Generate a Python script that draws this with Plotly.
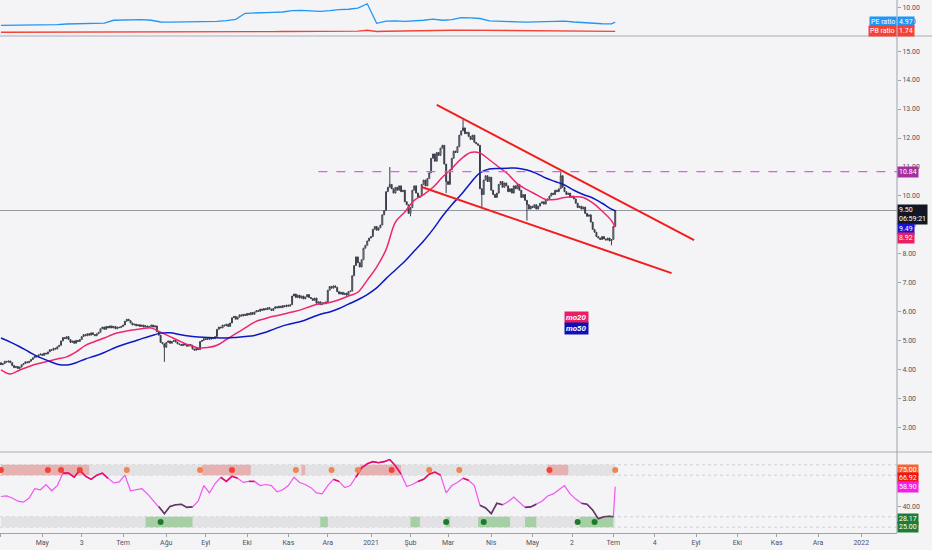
import pandas as pd
import plotly.graph_objects as go

# daily bars (weekdays) shown on the chart
days = pd.bdate_range('2020-04-01', '2021-07-02')

# closing prices, month by month
c_apr20 = [4.18, 4.22, 4.30, 4.27, 4.31, 4.25, 4.15, 4.08, 4.12, 4.05, 4.10, 4.18, 4.22, 4.28, 4.25, 4.30, 4.36, 4.42, 4.48, 4.45, 4.52, 4.55]
c_may20 = [4.50, 4.58, 4.55, 4.62, 4.70, 4.68, 4.75, 4.72, 4.80, 4.85, 5.00, 5.12, 5.08, 5.15, 5.05, 4.95, 5.00, 4.92, 5.02, 4.98, 5.05]
c_jun20 = [5.15, 5.22, 5.18, 5.25, 5.20, 5.28, 5.22, 5.18, 5.25, 5.30, 5.42, 5.48, 5.40, 5.50, 5.45, 5.52, 5.45, 5.50, 5.42, 5.48, 5.46, 5.50]
c_jul20 = [5.55, 5.68, 5.75, 5.70, 5.62, 5.55, 5.58, 5.52, 5.56, 5.50, 5.55, 5.48, 5.52, 5.46, 5.50, 5.55, 5.48, 5.52, 5.32, 5.20, 4.95, 4.90, 4.78]
c_aug20 = [4.95, 5.00, 4.92, 4.98, 5.02, 4.96, 4.90, 4.88, 4.84, 4.90, 4.86, 4.82, 4.88, 4.85, 4.72, 4.68, 4.75, 4.70, 4.98, 5.02, 5.08]
c_sep20 = [5.05, 5.10, 5.06, 5.12, 5.08, 5.15, 5.40, 5.48, 5.45, 5.55, 5.52, 5.58, 5.50, 5.62, 5.80, 5.85, 5.75, 5.82, 5.90, 5.86, 5.92, 5.88]
c_oct20 = [5.95, 5.90, 5.98, 5.92, 6.00, 6.05, 6.02, 6.10, 6.06, 6.12, 6.08, 6.15, 6.10, 6.05, 6.12, 6.18, 6.14, 6.20, 6.15, 6.22, 6.18, 6.24]
c_nov20 = [6.20, 6.25, 6.55, 6.62, 6.50, 6.58, 6.48, 6.55, 6.45, 6.52, 6.60, 6.50, 6.46, 6.40, 6.48, 6.30, 6.35, 6.25, 6.32, 6.28, 6.35]
c_dec20 = [6.75, 6.88, 6.82, 6.90, 6.85, 6.70, 6.62, 6.68, 6.60, 6.65, 6.58, 6.70, 6.72, 7.25, 7.60, 7.90, 7.70, 7.55, 7.80, 8.20, 8.30, 8.45, 8.55]
c_jan21 = [8.60, 8.85, 8.95, 8.82, 8.90, 9.00, 9.35, 9.50, 10.15, 10.30, 10.40, 10.25, 10.10, 10.30, 10.20, 10.35, 10.15, 10.20, 9.80, 9.70, 9.40]
c_feb21 = [9.60, 10.20, 10.35, 10.10, 9.95, 10.00, 10.40, 10.55, 10.35, 10.60, 10.80, 11.30, 11.45, 11.20, 11.50, 11.40, 11.65, 11.75, 11.10, 10.50]
c_mar21 = [10.40, 10.90, 11.30, 11.55, 11.50, 11.70, 12.10, 12.25, 12.35, 12.15, 12.20, 12.05, 11.95, 12.10, 11.85, 11.80, 11.75, 10.25, 10.05, 10.55, 10.70, 10.50, 10.65]
c_apr21 = [10.20, 10.05, 9.95, 10.10, 10.40, 10.50, 10.30, 10.45, 10.35, 10.15, 10.25, 10.10, 10.35, 10.25, 10.40, 10.20, 9.95, 10.05, 9.85, 9.70, 9.55, 9.65]
c_may21 = [9.60, 9.70, 9.55, 9.65, 9.75, 9.80, 9.72, 9.85, 9.90, 10.00, 10.10, 10.05, 10.20, 10.15, 10.25, 10.70, 10.30, 10.15, 10.05, 10.10, 9.95]
c_jun21 = [10.00, 9.90, 9.75, 9.60, 9.65, 9.55, 9.62, 9.40, 9.30, 9.35, 9.10, 8.85, 8.75, 8.60, 8.55, 8.50, 8.60, 8.52, 8.48, 8.55, 8.45, 8.50]
c_jul21 = [8.95, 9.50]
first_open = 4.25

# long wicks visible on the chart
wick_high = {'2021-01-15': 11.00, '2021-03-11': 12.65, '2021-05-24': 10.84}
wick_low = {'2020-07-31': 4.28, '2021-02-01': 9.30, '2021-02-26': 10.10,
            '2021-03-25': 9.60, '2021-04-28': 9.15, '2021-06-30': 8.30}

# moving averages, PE and PB ratios: one reading every 5th bar (+ last bar)
ma_idx = list(range(0, 326, 5)) + [327]
ma20 = [4.00, 3.86, 4.00, 4.12, 4.22, 4.30, 4.38, 4.45, 4.62, 4.85,
        4.98, 5.10, 5.24, 5.32, 5.38, 5.42, 5.45, 5.30, 5.15, 5.00,
        4.86, 4.76, 4.77, 4.85, 5.05, 5.25, 5.45, 5.65, 5.76, 5.85,
        5.92, 6.00, 6.08, 6.20, 6.28, 6.33, 6.42, 6.55, 6.68, 7.10,
        7.55, 8.15, 9.10, 9.45, 9.85, 10.05, 10.30, 10.65, 10.95, 11.28,
        11.50, 11.48, 11.25, 11.00, 10.75, 10.42, 10.22, 10.05, 9.88, 9.88,
        9.95, 9.97, 9.95, 9.76, 9.48, 9.15, 8.92]
ma50 = [5.10, 4.96, 4.80, 4.62, 4.45, 4.32, 4.20, 4.17, 4.25, 4.38,
        4.48, 4.60, 4.75, 4.87, 4.97, 5.08, 5.18, 5.27, 5.28, 5.22,
        5.17, 5.14, 5.12, 5.11, 5.10, 5.12, 5.15, 5.19, 5.28, 5.40,
        5.52, 5.60, 5.68, 5.80, 5.92, 6.00, 6.12, 6.27, 6.42, 6.60,
        6.83, 7.15, 7.45, 7.75, 8.10, 8.45, 8.85, 9.30, 9.70, 10.05,
        10.45, 10.80, 10.93, 10.95, 10.96, 10.96, 10.90, 10.78, 10.62, 10.50,
        10.38, 10.20, 10.05, 9.93, 9.75, 9.55, 9.49]
pe_ratio = [3.85, 3.85, 3.86, 3.86, 3.88, 3.90, 4.10, 4.30, 4.35, 4.45,
            4.55, 4.60, 5.60, 5.75, 5.90, 5.80, 5.60, 5.00, 4.95, 5.00,
            5.05, 5.10, 5.10, 5.20, 5.50, 5.90, 8.00, 8.20, 8.30, 8.35,
            8.45, 8.90, 9.00, 8.80, 8.70, 8.90, 9.30, 9.40, 9.80, 11.30,
            4.55, 5.30, 5.40, 5.20, 5.30, 5.60, 6.00, 5.60, 5.80, 6.50,
            6.40, 6.20, 5.40, 5.20, 5.10, 5.05, 4.95, 5.00, 5.10, 5.20,
            5.30, 5.00, 4.75, 4.55, 4.40, 4.35, 4.97]
pb_ratio = [1.45, 1.45, 1.46, 1.46, 1.47, 1.47, 1.50, 1.55, 1.55, 1.58, 1.60,
            1.62, 1.68, 1.70, 1.70, 1.68, 1.65,
            1.50, 1.50, 1.52, 1.55, 1.55,
            1.58, 1.60, 1.62, 1.65,
            1.68, 1.68, 1.70, 1.70, 1.72, 1.72, 1.74, 1.72, 1.70, 1.72, 1.74, 1.78, 1.85,
            2.15,
            1.72, 1.80, 1.82, 1.80, 1.85, 1.95,
            1.95, 2.05, 2.15, 2.20, 2.18, 2.10,
            1.95, 1.92, 1.90, 1.92, 1.95, 1.92, 1.88, 1.85, 1.82, 1.80, 1.78, 1.76, 1.74, 1.72,
            1.74]

# RSI-style oscillator, every 3rd bar (+ last two bars)
rsi_idx = list(range(0, 325, 3)) + [326, 327]
rsi = [49.5, 50, 48, 45, 44, 48, 57, 56, 61, 55,
       60, 72, 72, 68, 75, 69, 66, 70, 72, 67,
       62.5, 63.5, 70, 55, 56, 57, 52, 46, 40, 33,
       40, 41.5, 42, 39, 39.5, 45, 60, 53, 62, 68,
       64, 69, 67, 63, 64, 64, 60, 61, 60, 54,
       56, 60, 68, 63, 61, 58, 53, 52, 60, 66,
       64, 58, 60, 68, 77, 81, 83, 82, 83, 85,
       79, 71, 59, 61, 64, 66, 71, 73, 70, 53,
       60, 63, 67, 65, 60, 41, 38.5, 33, 43, 41.5,
       44.5, 49, 44, 39, 39.5, 42, 45, 50, 52, 56,
       60, 52, 47, 43, 42, 36.5, 28, 30, 30.5,
       30.0, 58.9]

# overbought / oversold highlight zones and signal dots
ob_zones = [('2020-04-01', '2020-06-05'), ('2020-08-28', '2020-10-05'), ('2020-11-11', '2020-11-13'),
            ('2020-12-24', '2021-01-25'), ('2021-05-13', '2021-05-28')]
os_zones = [('2020-07-17', '2020-08-21'), ('2020-11-25', '2020-12-01'), ('2021-02-01', '2021-02-08'),
            ('2021-02-26', '2021-03-02'), ('2021-03-23', '2021-04-15'), ('2021-04-27', '2021-05-05'),
            ('2021-06-07', '2021-07-01')]
ob_dots_red = ['2020-04-01', '2020-05-06', '2020-05-15', '2020-05-29', '2020-09-21', '2021-01-18', '2021-05-14']
ob_dots_orange = ['2020-07-03', '2020-08-27', '2020-11-06', '2020-12-03', '2020-12-23', '2021-02-15', '2021-03-09', '2021-07-02']
os_dots = ['2020-07-29', '2021-02-26', '2021-03-26', '2021-06-04', '2021-06-17']

# drawings: falling wedge and resistance level
upper_line = [('2021-02-19', 13.14), ('2021-08-31', 8.48)]
lower_line = [('2021-02-09', 10.31), ('2021-08-13', 7.34)]
resistance = 10.84
resistance_from = '2020-11-24'
last_price = 9.50

month_ticks = ['2020-04-01', '2020-05-01', '2020-06-01', '2020-07-01', '2020-08-03', '2020-09-01',
               '2020-10-01', '2020-11-02', '2020-12-01', '2021-01-01', '2021-02-01', '2021-03-01',
               '2021-04-01', '2021-05-03', '2021-06-01', '2021-07-01', '2021-08-02', '2021-09-01',
               '2021-10-01', '2021-11-01', '2021-12-01', '2022-01-03']
month_labels = ['Nis', 'May', '3', 'Tem', 'Ağu', 'Eyl', 'Eki', 'Kas', 'Ara', '2021', 'Şub', 'Mar',
                'Nis', 'May', '2', 'Tem', '4', 'Eyl', 'Eki', 'Kas', 'Ara', '2022']

closes = (c_apr20 + c_may20 + c_jun20 + c_jul20 + c_aug20 + c_sep20 + c_oct20 + c_nov20 + c_dec20
          + c_jan21 + c_feb21 + c_mar21 + c_apr21 + c_may21 + c_jun21 + c_jul21)
opens = [first_open] + closes[:-1]
highs = [max(o, c) for o, c in zip(opens, closes)]
lows = [min(o, c) for o, c in zip(opens, closes)]
day_str = [d.strftime('%Y-%m-%d') for d in days]
for d, v in wick_high.items():
    highs[day_str.index(d)] = v
for d, v in wick_low.items():
    lows[day_str.index(d)] = v

ma_x = [days[i] for i in ma_idx]
rsi_x = [days[i] for i in rsi_idx]

BG = '#f4f4f7'
AX = '#50535e'
FONT = 'Roboto'
X_END = '2022-01-28'

fig = go.Figure()

# top pane: PE / PB ratios
fig.add_trace(go.Scatter(x=ma_x, y=pe_ratio, mode='lines', line=dict(color='#2196f3', width=1.3),
                         xaxis='x', yaxis='y2', hoverinfo='skip'))
fig.add_trace(go.Scatter(x=ma_x, y=pb_ratio, mode='lines', line=dict(color='#f44336', width=1.3),
                         xaxis='x', yaxis='y2', hoverinfo='skip'))

# main pane: candles + MAs
fig.add_trace(go.Candlestick(x=days, open=opens, high=highs, low=lows, close=closes,
                             xaxis='x', yaxis='y', whiskerwidth=0, hoverinfo='skip',
                             increasing=dict(line=dict(color='#3a3e49', width=1), fillcolor='#ffffff'),
                             decreasing=dict(line=dict(color='#3a3e49', width=1), fillcolor='#3a3e49')))
fig.add_trace(go.Scatter(x=ma_x, y=ma20, mode='lines', line=dict(color='#f0256e', width=1.5, shape='spline'),
                         xaxis='x', yaxis='y', hoverinfo='skip'))
fig.add_trace(go.Scatter(x=ma_x, y=ma50, mode='lines', line=dict(color='#0c18c4', width=1.5, shape='spline'),
                         xaxis='x', yaxis='y', hoverinfo='skip'))

# bottom pane: oscillator
rsi_hi = [v if v >= 64 else None for v in rsi]
rsi_lo = [v if v <= 43 else None for v in rsi]
fig.add_trace(go.Scatter(x=rsi_x, y=rsi, mode='lines', line=dict(color='#f154f1', width=1.2),
                         xaxis='x', yaxis='y3', hoverinfo='skip'))
fig.add_trace(go.Scatter(x=rsi_x, y=rsi_hi, mode='lines', line=dict(color='#e0106a', width=1.6),
                         xaxis='x', yaxis='y3', hoverinfo='skip'))
fig.add_trace(go.Scatter(x=rsi_x, y=rsi_lo, mode='lines', line=dict(color='#5e3b60', width=1.6),
                         xaxis='x', yaxis='y3', hoverinfo='skip'))
fig.add_trace(go.Scatter(x=ob_dots_red, y=[75] * len(ob_dots_red), mode='markers',
                         marker=dict(color='#f44336', size=6), xaxis='x', yaxis='y3', hoverinfo='skip'))
fig.add_trace(go.Scatter(x=ob_dots_orange, y=[75] * len(ob_dots_orange), mode='markers',
                         marker=dict(color='#ef8550', size=6), xaxis='x', yaxis='y3', hoverinfo='skip'))
fig.add_trace(go.Scatter(x=os_dots, y=[25] * len(os_dots), mode='markers',
                         marker=dict(color='#1b7a2e', size=6), xaxis='x', yaxis='y3', hoverinfo='skip'))

# oscillator bands
for lo, hi in [(70, 80), (20, 30)]:
    fig.add_shape(type='rect', xref='x', yref='y3', x0=days[0], x1=days[-1], y0=lo, y1=hi,
                  fillcolor='#e2e2e4', line_width=0, layer='below')
    for lvl in (lo, hi):
        fig.add_shape(type='line', xref='paper', yref='y3', x0=0, x1=1, y0=lvl, y1=lvl,
                      line=dict(color='#cfd0d4', width=1, dash='dot'), layer='below')
for a, b in ob_zones:
    fig.add_shape(type='rect', xref='x', yref='y3', x0=a, x1=b, y0=70, y1=80,
                  fillcolor='#e6b1b1', line_width=0, layer='below')
for a, b in os_zones:
    fig.add_shape(type='rect', xref='x', yref='y3', x0=a, x1=b, y0=20, y1=30,
                  fillcolor='#a6cfa6', line_width=0, layer='below')

# drawings on the price pane
for (x0, y0), (x1, y1) in [upper_line, lower_line]:
    fig.add_shape(type='line', xref='x', yref='y', x0=x0, y0=y0, x1=x1, y1=y1,
                  line=dict(color='#f21d1d', width=2))
fig.add_shape(type='line', xref='x', yref='y', x0=resistance_from, x1=X_END, y0=resistance, y1=resistance,
              line=dict(color='#e25ae2', width=1.2, dash='dash'))
fig.add_shape(type='line', xref='paper', yref='y', x0=0, x1=1, y0=last_price, y1=last_price,
              line=dict(color='#9598a1', width=1), layer='below')

# pane separators and the price scale border
for yp in (0.9325, 0.152):
    fig.add_shape(type='line', xref='paper', yref='paper', x0=0, x1=1.04, y0=yp, y1=yp,
                  line=dict(color='#c3c5cc', width=1.5))
fig.add_shape(type='line', xref='paper', yref='paper', x0=1, x1=1, y0=0, y1=1,
              line=dict(color='#9fa2ab', width=1))


def tag(text, y, yref, bg, anchor='left', yshift=0, yanchor='middle'):
    fig.add_annotation(x=1, xref='paper', y=y, yref=yref, text=text, showarrow=False,
                       xanchor=anchor, yanchor=yanchor, yshift=yshift, bgcolor=bg, borderpad=1,
                       font=dict(color='white', size=7, family=FONT), align='left')


tag('PE ratio', pe_ratio[-1], 'y2', '#2196f3', anchor='right')
tag('%.2f' % pe_ratio[-1], pe_ratio[-1], 'y2', '#2196f3')
tag('PB ratio', pb_ratio[-1], 'y2', '#f44336', anchor='right')
tag('%.2f' % pb_ratio[-1], pb_ratio[-1], 'y2', '#f44336')
tag('%.2f' % resistance, resistance, 'y', '#a52fa0')
tag('%.2f<br>06:59:21' % last_price, last_price, 'y', '#131722', yanchor='top', yshift=6)
tag('%.2f' % ma50[-1], ma50[-1], 'y', '#1515d8', yshift=-18)
tag('%.2f' % ma20[-1], ma20[-1], 'y', '#e91e63', yshift=-11)
tag('75.00', 75, 'y3', '#f4623a')
tag('66.92', 66.92, 'y3', '#f21616')
tag('%.2f' % rsi[-1], rsi[-1], 'y3', '#f321e8')
tag('28.17', 28.17, 'y3', '#1e7d34')
tag('25.00', 25, 'y3', '#1e7d34', yshift=-5)

# MA legend boxes
fig.add_annotation(x=0.643, y=0.405, xref='paper', yref='paper', text='<b><i>mo20</i></b>', showarrow=False,
                   bgcolor='#e91e63', borderpad=1, font=dict(color='white', size=8, family=FONT))
fig.add_annotation(x=0.643, y=0.384, xref='paper', yref='paper', text='<b><i>mo50</i></b>', showarrow=False,
                   bgcolor='#1010b4', borderpad=1, font=dict(color='white', size=8, family=FONT))

yax = dict(side='right', anchor='x', showgrid=False, zeroline=False, showline=False,
           ticks='outside', ticklen=3, tickcolor='#9fa2ab', tickformat='.2f',
           tickfont=dict(size=7, color=AX, family=FONT), fixedrange=True)

fig.update_layout(
    width=932, height=550, margin=dict(l=0, r=35, t=0, b=17),
    plot_bgcolor=BG, paper_bgcolor=BG, showlegend=False,
    xaxis=dict(type='date', range=['2020-03-31 12:00', X_END], anchor='y3',
               rangebreaks=[dict(bounds=['sat', 'mon'])], rangeslider=dict(visible=False),
               tickmode='array', tickvals=month_ticks, ticktext=month_labels,
               ticks='outside', ticklen=3, tickcolor='#9fa2ab', showgrid=False, zeroline=False,
               showline=True, linecolor='#9fa2ab', tickfont=dict(size=7, color=AX, family=FONT)),
    yaxis=dict(domain=[0.152, 0.9325], range=[1.17, 15.52], tickvals=list(range(2, 16)), **yax),
    yaxis2=dict(domain=[0.9325, 1], range=[0.17, 12.6], tickvals=[5, 10], **yax),
    yaxis3=dict(domain=[0, 0.152], range=[14.4, 92.3], tickvals=[40], **yax),
)

# the page's default body margin would push the chart 8px off the corner
fig.write_html("out.html", config={'displayModeBar': False},
               post_script="document.body.style.margin='0';document.body.style.background='%s';" % BG)
